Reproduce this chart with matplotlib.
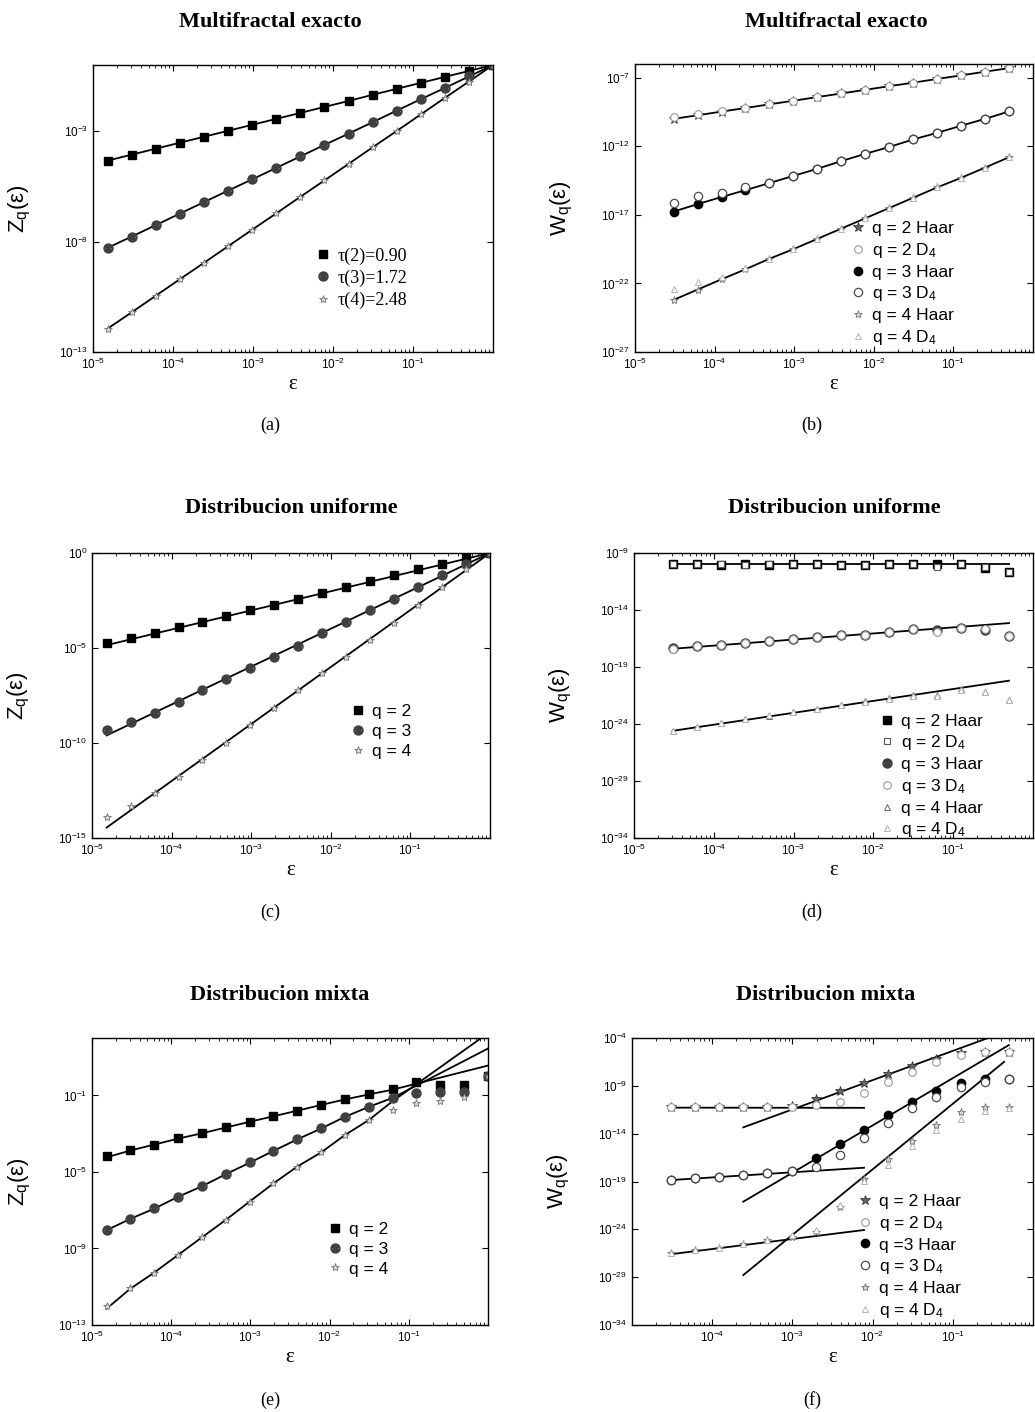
import numpy as np
import matplotlib
matplotlib.use("Agg")
import matplotlib.pyplot as plt
from matplotlib.ticker import FixedLocator, NullLocator, LogLocator, NullFormatter

plt.rcParams['font.family'] = ['Liberation Sans', 'DejaVu Sans']
plt.rcParams['mathtext.fontset'] = 'custom'
plt.rcParams['mathtext.rm'] = 'Liberation Sans'
plt.rcParams['mathtext.it'] = 'Liberation Sans:italic'
plt.rcParams['mathtext.bf'] = 'Liberation Sans:bold'

# ---------------- data (log10 values) ----------------
eps17 = [1.526e-5, 3.052e-5, 6.104e-5, 1.221e-4, 2.441e-4, 4.883e-4, 9.766e-4,
         1.953e-3, 3.906e-3, 7.813e-3, 1.563e-2, 3.125e-2, 6.25e-2, 0.125, 0.25, 0.5, 1.0]
eps15 = [3.052e-5, 6.104e-5, 1.221e-4, 2.441e-4, 4.883e-4, 9.766e-4,
         1.953e-3, 3.906e-3, 7.813e-3, 1.563e-2, 3.125e-2, 6.25e-2, 0.125, 0.25, 0.5]

# (a) Multifractal exacto - Z_q
a_q2 = [-4.33, -4.06, -3.79, -3.52, -3.25, -2.98, -2.71, -2.44, -2.17, -1.90, -1.63, -1.35, -1.08, -0.81, -0.54, -0.27, 0.0]
a_q3 = [-8.28, -7.77, -7.25, -6.73, -6.21, -5.69, -5.18, -4.66, -4.14, -3.62, -3.11, -2.59, -2.07, -1.55, -1.04, -0.52, 0.0]
a_q4 = [-11.94, -11.20, -10.45, -9.70, -8.96, -8.21, -7.46, -6.72, -5.97, -5.23, -4.48, -3.73, -2.99, -2.24, -1.49, -0.75, 0.0]
a_labels = ['τ(2)=0.90', 'τ(3)=1.72', 'τ(4)=2.48']

# (b) Multifractal exacto - W_q
b_q2_haar = [-10.00, -9.74, -9.47, -9.21, -8.94, -8.68, -8.41, -8.15, -7.88, -7.62, -7.36, -7.09, -6.83, -6.56, -6.30]
b_q2_d4 = [-9.85, -9.68, -9.45, -9.20, -8.94, -8.68, -8.41, -8.15, -7.88, -7.62, -7.36, -7.09, -6.83, -6.56, -6.30]
b_q3_haar = [-16.76, -16.22, -15.70, -15.20, -14.68, -14.16, -13.64, -13.08, -12.55, -12.05, -11.50, -11.02, -10.50, -10.00, -9.46]
b_q3_d4 = [-16.10, -15.65, -15.40, -14.95, -14.68, -14.16, -13.64, -13.08, -12.55, -12.05, -11.50, -11.02, -10.50, -10.00, -9.46]
b_q4_haar = [-23.20, -22.45, -21.70, -20.97, -20.20, -19.50, -18.75, -18.00, -17.25, -16.50, -15.75, -15.00, -14.30, -13.55, -12.80]
b_q4_d4 = [-22.40, -21.90, -21.50, -20.90, -20.20, -19.50, -18.75, -18.00, -17.25, -16.50, -15.75, -15.00, -14.30, -13.55, -12.80]

# (c) Distribucion uniforme - Z_q
c_q2 = [-4.72, -4.46, -4.23, -3.91, -3.61, -3.32, -3.00, -2.72, -2.40, -2.09, -1.77, -1.46, -1.16, -0.86, -0.60, -0.28, 0.0]
c_q3 = [-9.32, -8.88, -8.40, -7.86, -7.21, -6.63, -6.04, -5.46, -4.88, -4.23, -3.61, -3.00, -2.41, -1.77, -1.16, -0.56, 0.0]
c_q4 = [-13.91, -13.32, -12.65, -11.77, -10.89, -9.98, -9.05, -8.14, -7.21, -6.33, -5.46, -4.58, -3.67, -2.74, -1.81, -0.86, 0.0]
c_fit_eps = [1.526e-5, 1.0]
c_fit_q2 = [-4.85, 0.0]
c_fit_q3 = [-9.60, 0.0]
c_fit_q4 = [-14.45, 0.0]

# (d) Distribucion uniforme - W_q
d_q2_haar = [-10.00, -10.00, -10.02, -10.00, -10.02, -10.00, -10.00, -10.02, -10.02, -9.95, -9.95, -10.00, -10.00, -10.29, -10.70]
d_q2_d4 = [-10.00, -10.00, -10.00, -10.02, -10.00, -10.00, -10.00, -10.02, -10.02, -9.97, -9.97, -10.25, -10.00, -10.20, -10.65]
d_q3_haar = [-17.33, -17.19, -17.07, -16.89, -16.69, -16.54, -16.34, -16.19, -16.16, -15.90, -15.67, -15.75, -15.58, -15.75, -16.25]
d_q3_d4 = [-17.40, -17.20, -17.05, -16.90, -16.70, -16.55, -16.35, -16.20, -16.15, -15.95, -15.70, -15.90, -15.60, -15.70, -16.30]
d_q4_haar = [-24.58, -24.23, -23.91, -23.56, -23.27, -22.98, -22.68, -22.30, -22.01, -21.75, -21.43, -21.45, -20.93, -21.17, -21.90]
d_q4_d4 = [-24.60, -24.25, -23.90, -23.55, -23.25, -22.95, -22.70, -22.35, -22.05, -21.80, -21.50, -21.51, -21.00, -21.20, -21.90]
d_fit_eps = [3.052e-5, 0.5]
d_fit_q2 = [-10.00, -10.00]
d_fit_q3 = [-17.40, -15.15]
d_fit_q4 = [-24.60, -20.20]

# (e) Distribucion mixta - Z_q
e_q2 = [-4.17, -3.86, -3.59, -3.24, -2.98, -2.67, -2.37, -2.08, -1.80, -1.50, -1.21, -0.93, -0.68, -0.30, -0.45, -0.45, 0.0]
e_q3 = [-8.03, -7.46, -6.90, -6.29, -5.72, -5.11, -4.50, -3.89, -3.30, -2.72, -2.11, -1.62, -1.13, -0.87, -0.80, -0.80, 0.0]
e_q4 = [-12.01, -11.08, -10.26, -9.34, -8.42, -7.51, -6.55, -5.60, -4.72, -3.98, -3.07, -2.29, -1.74, -1.39, -1.31, -1.10, 0.0]
e_line_eps = [1.526e-5, 3.052e-5, 6.104e-5, 1.221e-4, 2.441e-4, 4.883e-4, 9.766e-4,
              1.953e-3, 3.906e-3, 7.813e-3, 1.563e-2, 3.125e-2, 6.25e-2, 1.0]
e_line_q2 = [-4.24, -3.88, -3.57, -3.26, -2.98, -2.68, -2.38, -2.09, -1.80, -1.50, -1.21, -0.95, -0.70, 0.56]
e_line_q3 = [-8.05, -7.45, -6.92, -6.30, -5.75, -5.12, -4.52, -3.90, -3.30, -2.73, -2.12, -1.60, -1.13, 1.45]
e_line_q4 = [-12.15, -11.10, -10.26, -9.34, -8.42, -7.51, -6.55, -5.60, -4.72, -3.98, -3.07, -2.29, -1.30, 2.25]

# (f) Distribucion mixta - W_q
f_q2_haar = [-11.25, -11.25, -11.25, -11.25, -11.25, -11.15, -10.38, -9.55, -8.75, -7.81, -6.90, -6.24, -5.61, -5.44, -5.44]
f_q2_d4 = [-11.25, -11.25, -11.25, -11.25, -11.25, -11.20, -11.00, -10.66, -9.72, -8.57, -7.53, -6.48, -5.80, -5.50, -5.44]
f_q3_haar = [-18.85, -18.67, -18.50, -18.36, -18.15, -17.90, -16.52, -15.09, -13.62, -12.06, -10.66, -9.51, -8.68, -8.33, -8.33]
f_q3_d4 = [-18.85, -18.67, -18.50, -18.36, -18.15, -17.90, -17.44, -16.24, -14.49, -12.92, -11.36, -10.14, -9.10, -8.60, -8.33]
f_q4_haar = [-26.51, -26.16, -25.92, -25.57, -25.12, -24.84, -24.30, -21.64, -18.70, -16.60, -14.80, -13.10, -11.71, -11.25, -11.25]
f_q4_d4 = [-26.51, -26.16, -25.92, -25.57, -25.12, -24.60, -24.07, -21.46, -18.90, -17.30, -15.30, -13.60, -12.50, -11.60, -11.30]
f_flat_eps = [3.052e-5, 7.813e-3]
f_flat_q2 = [-11.28, -11.30]
f_flat_q3 = [-18.85, -17.56]
f_flat_q4 = [-26.60, -24.07]
f_steep_q2_eps = [2.441e-4, 0.35]
f_steep_q2 = [-13.34, -3.68]
f_steep_q3_eps = [2.441e-4, 0.5]
f_steep_q3 = [-21.11, -4.74]
f_steep_q4_eps = [2.441e-4, 0.437]
f_steep_q4 = [-28.78, -6.49]

q_labels = ['q = 2', 'q = 3', 'q = 4']
w_labels = ['q = 2 Haar', 'q = 2 D$_4$', 'q = 3 Haar', 'q = 3 D$_4$', 'q = 4 Haar', 'q = 4 D$_4$']
w_labels_f = ['q = 2 Haar', 'q = 2 D$_4$', 'q =3 Haar', 'q = 3 D$_4$', 'q = 4 Haar', 'q = 4 D$_4$']

# ---------------- figure ----------------
W, H = 1035, 1412
fig = plt.figure(figsize=(W / 100, H / 100), dpi=100)


def add_ax(l, r, t, b):
    return fig.add_axes([l / W, 1 - b / H, (r - l) / W, (b - t) / H])


def P(v):
    return 10.0 ** np.asarray(v)


def style(ax, ylo, yhi, yticks, xticks, ylabel):
    ax.set_xscale('log')
    ax.set_yscale('log')
    ax.set_xlim(1e-5, 1.0)
    ax.set_ylim(10.0 ** ylo, 10.0 ** yhi)
    ax.yaxis.set_major_locator(FixedLocator([10.0 ** e for e in yticks]))
    ax.set_yticklabels(['$10^{%d}$' % e for e in yticks])
    ax.yaxis.set_minor_locator(NullLocator())
    ax.xaxis.set_major_locator(FixedLocator([10.0 ** e for e in xticks]))
    ax.set_xticklabels(['$10^{%d}$' % e for e in xticks])
    ax.xaxis.set_minor_locator(LogLocator(base=10, subs=np.arange(2, 10), numticks=20))
    ax.xaxis.set_minor_formatter(NullFormatter())
    ax.tick_params(which='both', direction='in', top=True, right=True, labelsize=8.5)
    ax.tick_params(which='major', length=4, width=0.8)
    ax.tick_params(which='minor', length=2, width=0.6)
    for s in ax.spines.values():
        s.set_linewidth(1.0)
    ax.set_xlabel('ε', family='Liberation Serif', fontsize=15, labelpad=2)
    ax.set_ylabel(ylabel, fontsize=16)
    ax.yaxis.set_label_coords(-0.15, 0.5)


LW = 1.3
LEG = dict(frameon=False, loc='upper left', borderpad=0, handlelength=0.9,
           handletextpad=0.35, labelspacing=0.27, borderaxespad=0, fontsize=12.5)

sq = dict(marker='s', ms=5.5, mfc='k', mec='k', ls='none')
cast = dict(marker='$\\circledast$', ms=6.5, mfc='0.4', mec='0.25', ls='none')
star = dict(marker='*', ms=6, mfc='0.85', mec='0.45', mew=0.6, ls='none')
fcirc = dict(marker='o', ms=6, mfc='k', mec='k', ls='none')
ocirc = dict(marker='o', ms=6, mfc='white', mec='0.3', mew=0.9, ls='none')
ocirc_l = dict(marker='o', ms=5.5, mfc='white', mec='0.6', mew=0.8, ls='none')
osq = dict(marker='s', ms=5, mfc='white', mec='0.35', mew=0.8, ls='none')
tri = dict(marker='^', ms=5, mfc='white', mec='0.4', mew=0.7, ls='none')
tri_l = dict(marker='^', ms=5, mfc='white', mec='0.7', mew=0.7, ls='none')
star_d = dict(marker='*', ms=7, mfc='0.4', mec='0.15', mew=0.5, ls='none')

# ---- (a)
ax = add_ax(93, 493, 65, 352)
for v in (a_q2, a_q3, a_q4):
    ax.plot(eps17, P(v), '-', color='k', lw=LW)
ax.plot(eps17, P(a_q2), label=a_labels[0], **sq)
ax.plot(eps17, P(a_q3), label=a_labels[1], **cast)
ax.plot(eps17, P(a_q4), label=a_labels[2], **star)
style(ax, -13, 0, [-13, -8, -3], [-5, -4, -3, -2, -1], 'Z$_\\mathrm{q}$(ε)')
ax.legend(bbox_to_anchor=(0.555, 0.365), prop={'family': 'Liberation Serif', 'size': 13},
          **{k: v for k, v in LEG.items() if k != 'fontsize'})

# ---- (b)
ax = add_ax(635, 1033, 64, 352)
for v in (b_q2_haar, b_q3_haar, b_q4_haar):
    ax.plot(eps15, P(v), '-', color='k', lw=LW)
ax.plot(eps15, P(b_q2_haar), label=w_labels[0], **star_d)
ax.plot(eps15, P(b_q2_d4), label=w_labels[1], **ocirc_l)
ax.plot(eps15, P(b_q3_haar), label=w_labels[2], **fcirc)
ax.plot(eps15, P(b_q3_d4), label=w_labels[3], **ocirc)
ax.plot(eps15, P(b_q4_haar), label=w_labels[4], **star)
ax.plot(eps15, P(b_q4_d4), label=w_labels[5], **tri_l)
style(ax, -27, -6, [-27, -22, -17, -12, -7], [-5, -4, -3, -2, -1], 'W$_\\mathrm{q}$(ε)')
ax.legend(bbox_to_anchor=(0.54, 0.455), **LEG)

# ---- (c)
ax = add_ax(92, 490, 553, 838)
for v in (c_fit_q2, c_fit_q3, c_fit_q4):
    ax.plot(c_fit_eps, P(v), '-', color='k', lw=LW)
ax.plot(eps17, P(c_q2), label=q_labels[0], **sq)
ax.plot(eps17, P(c_q3), label=q_labels[1], **cast)
ax.plot(eps17, P(c_q4), label=q_labels[2], **star)
style(ax, -15, 0, [-15, -10, -5, 0], [-5, -4, -3, -2, -1], 'Z$_\\mathrm{q}$(ε)')
ax.legend(bbox_to_anchor=(0.648, 0.47), **LEG)

# ---- (d)
ax = add_ax(634, 1033, 553, 838)
for v in (d_fit_q2, d_fit_q3, d_fit_q4):
    ax.plot(d_fit_eps, P(v), '-', color='k', lw=LW)
ax.plot(eps15, P(d_q2_haar), label=w_labels[0], **sq)
ax.plot(eps15, P(d_q2_d4), label=w_labels[1], **osq)
ax.plot(eps15, P(d_q3_haar), label=w_labels[2], **cast)
ax.plot(eps15, P(d_q3_d4), label=w_labels[3], **ocirc_l)
ax.plot(eps15, P(d_q4_haar), label=w_labels[4], **tri)
ax.plot(eps15, P(d_q4_d4), label=w_labels[5], **tri_l)
style(ax, -34, -9, [-34, -29, -24, -19, -14, -9], [-5, -4, -3, -2, -1], 'W$_\\mathrm{q}$(ε)')
ax.legend(bbox_to_anchor=(0.614, 0.437), **LEG)

# ---- (e)
ax = add_ax(92, 488, 1038, 1325)
for v in (e_line_q2, e_line_q3, e_line_q4):
    ax.plot(e_line_eps, P(v), '-', color='k', lw=LW)
ax.plot(eps17, P(e_q2), label=q_labels[0], **sq)
ax.plot(eps17, P(e_q3), label=q_labels[1], **cast)
ax.plot(eps17, P(e_q4), label=q_labels[2], **star)
style(ax, -13, 2, [-13, -9, -5, -1], [-5, -4, -3, -2, -1], 'Z$_\\mathrm{q}$(ε)')
ax.legend(bbox_to_anchor=(0.593, 0.36), **LEG)

# ---- (f)
ax = add_ax(632, 1033, 1038, 1325)
for v in (f_flat_q2, f_flat_q3, f_flat_q4):
    ax.plot(f_flat_eps, P(v), '-', color='k', lw=LW)
ax.plot(f_steep_q2_eps, P(f_steep_q2), '-', color='k', lw=LW)
ax.plot(f_steep_q3_eps, P(f_steep_q3), '-', color='k', lw=LW)
ax.plot(f_steep_q4_eps, P(f_steep_q4), '-', color='k', lw=LW)
ax.plot(eps15, P(f_q2_haar), label=w_labels_f[0], **star_d)
ax.plot(eps15, P(f_q2_d4), label=w_labels_f[1], **ocirc_l)
ax.plot(eps15, P(f_q3_haar), label=w_labels_f[2], **fcirc)
ax.plot(eps15, P(f_q3_d4), label=w_labels_f[3], **ocirc)
ax.plot(eps15, P(f_q4_haar), label=w_labels_f[4], **star)
ax.plot(eps15, P(f_q4_d4), label=w_labels_f[5], **tri_l)
style(ax, -34, -4, [-34, -29, -24, -19, -14, -9, -4], [-4, -3, -2, -1], 'W$_\\mathrm{q}$(ε)')
ax.legend(bbox_to_anchor=(0.561, 0.457), **LEG)

# ---- titles and captions
titles = [('Multifractal exacto', 270, 22), ('Multifractal exacto', 836, 22),
          ('Distribucion uniforme', 291, 508), ('Distribucion uniforme', 834, 508),
          ('Distribucion mixta', 280, 995), ('Distribucion mixta', 826, 995)]
for t, x, y in titles:
    fig.text(x / W, 1 - y / H, t, ha='center', va='center', family='Liberation Serif',
             weight='bold', fontsize=16)
caps = [('(a)', 270, 425), ('(b)', 812, 425), ('(c)', 270, 912), ('(d)', 812, 912),
        ('(e)', 270, 1400), ('(f)', 812, 1400)]
for t, x, y in caps:
    fig.text(x / W, 1 - y / H, t, ha='center', va='center', family='Liberation Serif', fontsize=13)

fig.savefig('out.png', dpi=100)
